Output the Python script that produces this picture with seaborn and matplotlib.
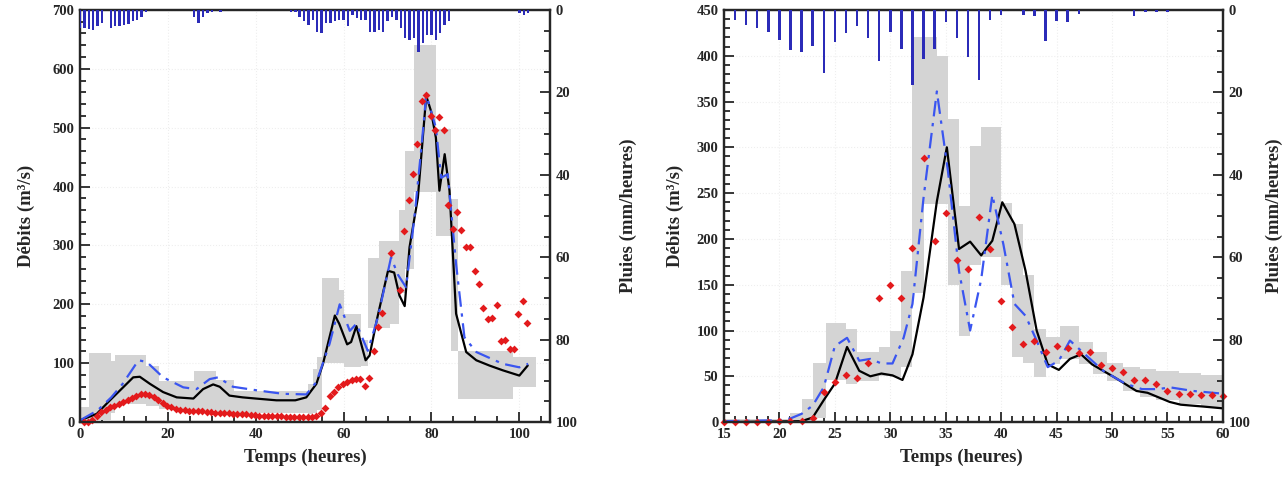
import numpy as np
import pandas as pd
import seaborn as sns
import matplotlib.pyplot as plt
from matplotlib.ticker import MultipleLocator

# ---------------- left event (0-105 h) ----------------
# simulated discharge, model 1 (black)
l_sim1_t = [0, 3.8, 6.8, 9.8, 12.1, 13.6, 15.9, 18.9, 22, 25.8, 28, 30.3, 31.8, 34, 37, 40,
            44.7, 49, 51.5, 53.8, 55.3, 58, 59, 60.8, 61.7, 62.9, 65, 65.9, 67.6, 70.1, 71.5,
            72.7, 73.9, 75, 76.9, 78.8, 79.9, 81, 81.8, 83, 84.1, 85.6, 87.9, 90.2, 93.2,
            96.2, 100, 101.9]
l_sim1_q = [3, 14, 37, 59, 76, 77, 65, 51, 42, 40, 56, 64, 60, 45, 42, 40,
            37, 37, 42, 65, 99, 181, 167, 132, 136, 163, 105, 113, 175, 257, 254,
            215, 197, 297, 381, 554, 528, 483, 393, 455, 393, 184, 119, 105, 96,
            88, 79, 96]
# simulated discharge, model 2 (blue dash-dot)
l_sim2_t = [0, 4, 7.1, 9.6, 13.3, 15.2, 18.9, 23.5, 26.5, 29.5, 31.4, 34.8, 40.2, 46.2, 51.5,
            53.8, 56.8, 59.1, 61.4, 62.9, 65.5, 67.8, 70.8, 72.3, 74.2, 76.1, 77.7, 78.8,
            81, 82.2, 83.7, 85.6, 87.5, 90.2, 96.2, 100, 102]
l_sim2_q = [3, 20, 42, 64, 105, 102, 76, 59, 56, 73, 76, 60, 54, 48, 47,
            68, 133, 200, 155, 167, 121, 178, 280, 251, 229, 347, 466, 556,
            500, 415, 421, 268, 144, 119, 99, 93, 99]
# observed discharge (red)
l_obs_t = np.arange(0.8, 102, 1.0)
l_obs_q = [0, 1, 3, 10, 17, 21, 25, 28, 31, 34, 38, 41, 45, 48, 48, 46, 42, 37, 32, 28,
           25, 22, 21, 20, 19, 19, 18, 18, 17, 17, 16, 16, 15, 15, 14, 14, 13, 13, 12, 12,
           11, 11, 11, 10, 10, 10, 9, 9, 8, 8, 8, 8, 9, 11, 15, 24, 45, 51, 59, 64,
           68, 71, 74, 74, 62, 75, 120, 161, 186, np.nan, 288, np.nan, 225, 324, 377, 422, 472, 545, 555, 520,
           496, 518, 496, 369, 328, 357, 326, 298, 298, 256, 234, 194, 175, 177, 199, 138, 140, 124, 124, 184,
           206, 168]
# uncertainty band (step edges)
l_band_t = [0, 2, 7, 8, 15, 18, 26, 31, 35, 52, 53, 54, 55, 59, 60, 64, 65.5, 68, 70.5, 72.7,
            74, 76, 81, 84.5, 86, 98.5, 103.8]
l_band_lo = [0, 3, 15, 30, 27, 22, 20, 17, 15, 14, 15, 20, 100, 100, 93, 95, 160, 159, 167, 220,
             260, 390, 316, 120, 40, 59]
l_band_hi = [25, 118, 104, 114, 95, 70, 86, 72, 53, 65, 90, 110, 244, 224, 184, 140, 279, 308, 307, 360,
             460, 641, 497, 379, 121, 111]
# rainfall (mm/h)
l_rain_t = [0, 1, 2, 3, 4, 5, 7, 8, 9, 10, 11, 12, 13, 14, 15, 26, 27, 28, 29, 30, 32] + \
           list(range(48, 85)) + [100, 101, 102]
l_rain = [4.4, 4.4, 4.7, 4.9, 4.0, 3.2, 4.3, 3.8, 3.8, 3.6, 3.5, 2.8, 2.4, 1.6, 0.4,
          1.6, 3.2, 1.6, 0.8, 0.4, 0.4,
          0.4, 0.4, 1.6, 2.8, 3.6, 2.4, 5.3, 5.7, 3.2, 3.2, 2.8, 2.4, 2.4, 4.0, 1.2, 2.0, 2.4,
          2.4, 5.3, 5.3, 4.9, 5.3, 2.8, 1.6, 2.4, 4.4, 6.9, 7.3, 6.9, 10.1, 8.1, 6.1, 6.1, 7.3,
          5.7, 3.6, 2.8,
          0.8, 1.2, 0.8]

# ---------------- right event (15-60 h) ----------------
r_sim1_t = [15, 22, 23, 24, 25, 26.1, 27.2, 28.2, 29.2, 30.2, 31.1, 32, 33, 34.2, 35.1, 36.2,
            37.2, 38.2, 39.2, 40.1, 41.2, 42.2, 43.2, 44.2, 45.2, 46.2, 47.2, 48.2, 50.2, 52.2,
            53.2, 55.2, 56.2, 58.2, 60]
r_sim1_q = [0, 1, 5, 24, 42, 82, 56, 50, 53, 51, 46, 74, 136, 241, 300, 189,
            197, 182, 198, 240, 216, 165, 100, 63, 57, 69, 74, 63, 49, 34,
            32, 22, 19, 17, 15]
r_sim2_t = [15, 20, 21, 22, 23, 24, 25, 26.1, 27.2, 28.2, 29.2, 30.2, 31.2, 32, 33, 34.2, 35.2,
            36.2, 37.2, 38.2, 39.2, 40.2, 41.2, 42.2, 43.2, 44.2, 45.2, 46.2, 47.2, 49.2, 51.2,
            52.7, 54.2, 55.2, 57.3, 60]
r_sim2_q = [1, 2, 4, 9, 18, 38, 83, 92, 67, 69, 64, 64, 92, 129, 245, 361, 274,
            165, 100, 156, 248, 194, 129, 116, 89, 60, 67, 89, 78, 56, 42,
            36, 36, 38, 34, 31]
r_obs_t = np.arange(15, 61)
r_obs_q = [0, 0, 0, 0, 0, 1, 1, 1, 5, 33, 44, 51, 48, 64, 135, 150, 136, 190, 288, 198,
           228, 177, 167, 224, 189, 132, 104, 85, 89, 77, 83, 81, 75, 77, 62, 59, 55, 46,
           46, 42, 34, 31, 31, 30, 30, 29]
r_band_t = [15, 21, 22, 23, 24.2, 26, 27, 29, 30, 31, 32, 33, 34.2, 35.2, 36.2, 37.2, 38.2, 40,
            41, 42, 43, 44, 45.3, 47, 48.3, 49.5, 51, 52.5, 54, 56, 58, 60]
r_band_lo = [0, 0, 0, 4, 46, 42, 45, 50, 49, 60, 141, 238, 238, 150, 94, 172, 180, 150,
             71, 65, 49, 63, 69, 63, 53, 45, 34, 27, 24, 20, 16]
r_band_hi = [3, 10, 25, 65, 108, 102, 76, 82, 100, 165, 420, 420, 400, 331, 236, 301, 322, 239,
             216, 161, 102, 93, 105, 87, 76, 65, 60, 58, 56, 54, 51]
r_rain_t = list(range(16, 41)) + [42, 43, 44, 45, 46, 47, 52, 53, 54, 55]
r_rain = [2.5, 3.75, 4.4, 5.25, 7.25, 9.8, 10.25, 8.75, 15.3, 7.9, 5.7, 4.0, 6.7, 12.4, 5.25,
          9.4, 18.2, 11.9, 9.4, 2.9, 6.7, 11.4, 17.0, 2.5, 1.25,
          1.25, 1.4, 7.5, 2.7, 2.9, 1.1, 1.4, 0.4, 0.4, 0.6]

sns.set_style("ticks")
plt.rcParams["font.family"] = ["Liberation Serif", "DejaVu Serif"]
plt.rcParams["font.weight"] = "bold"

BAND = "#d4d4d4"
BLUE = "#3a55f0"
RAIN = "#2b2bb8"
RED = "#e31a1c"


def draw_panel(ax, band_t, band_lo, band_hi, s1_t, s1_q, s2_t, s2_q, obs_t, obs_q,
               rain_t, rain, xlim, ylim, xmaj, xmin, ymaj, ymin, bar_w):
    ax.fill_between(band_t, band_lo + [band_lo[-1]], band_hi + [band_hi[-1]],
                    step="post", color=BAND, lw=0, zorder=1)
    d1 = pd.DataFrame({"t": s1_t, "q": s1_q})
    d2 = pd.DataFrame({"t": s2_t, "q": s2_q})
    sns.lineplot(data=d1, x="t", y="q", ax=ax, color="black", lw=1.6,
                 sort=False, estimator=None, zorder=3)
    sns.lineplot(data=d2, x="t", y="q", ax=ax, color=BLUE, lw=1.6,
                 sort=False, estimator=None, zorder=4)
    ax.lines[-1].set_linestyle((0, (7, 3, 1.5, 3)))
    do = pd.DataFrame({"t": obs_t, "q": obs_q}).dropna()
    sns.scatterplot(data=do, x="t", y="q", ax=ax, color=RED, marker="D", s=16,
                    linewidth=0, zorder=5, clip_on=False)

    ax.set_xlim(*xlim)
    ax.set_ylim(*ylim)
    ax.xaxis.set_major_locator(MultipleLocator(xmaj))
    ax.xaxis.set_minor_locator(MultipleLocator(xmin))
    ax.yaxis.set_major_locator(MultipleLocator(ymaj))
    ax.yaxis.set_minor_locator(MultipleLocator(ymin))
    ax.grid(True, which="major", color="#eeeeee", lw=0.8, ls=":")
    ax.tick_params(which="both", direction="in", top=False, right=False,
                   labelsize=10.5, width=1.3, pad=4)
    ax.tick_params(which="major", length=7)
    ax.tick_params(which="minor", length=4)
    for sp in ax.spines.values():
        sp.set_linewidth(1.6)
        sp.set_visible(True)
    ax.set_xlabel("Temps (heures)", fontsize=13.5, fontweight="bold")
    ax.set_ylabel("Débits (m³/s)", fontsize=13.5, fontweight="bold")

    ax2 = ax.twinx()
    ax2.bar(rain_t, rain, width=bar_w, color=RAIN, lw=0, zorder=6)
    ax2.set_ylim(100, 0)
    ax2.yaxis.set_major_locator(MultipleLocator(20))
    ax2.yaxis.set_minor_locator(MultipleLocator(5))
    ax2.tick_params(which="both", direction="in", labelsize=10.5, width=1.3, pad=4)
    ax2.tick_params(which="major", length=7)
    ax2.tick_params(which="minor", length=4)
    for sp in ax2.spines.values():
        sp.set_linewidth(1.6)
    ax2.set_ylabel("Pluies (mm/heures)", fontsize=13.5, fontweight="bold")
    return ax2


fig = plt.figure(figsize=(12.85, 4.96), dpi=100)
ax_l = fig.add_axes([0.0623, 0.149, 0.3658, 0.831])
ax_r = fig.add_axes([0.5634, 0.149, 0.3883, 0.831])

a2 = draw_panel(ax_l, l_band_t, l_band_lo, l_band_hi, l_sim1_t, l_sim1_q, l_sim2_t, l_sim2_q,
                l_obs_t, l_obs_q, l_rain_t, l_rain, (0, 107), (0, 700), 20, 5, 100, 20, 0.55)
ax_l.yaxis.set_label_coords(-0.095, 0.5)
ax_l.xaxis.set_label_coords(0.48, -0.065)
a2.yaxis.set_label_coords(1.148, 0.5)

b2 = draw_panel(ax_r, r_band_t, r_band_lo, r_band_hi, r_sim1_t, r_sim1_q, r_sim2_t, r_sim2_q,
                r_obs_t, r_obs_q, r_rain_t, r_rain, (15, 60), (0, 450), 5, 1, 50, 10, 0.22)
ax_r.yaxis.set_label_coords(-0.08, 0.5)
ax_r.xaxis.set_label_coords(0.475, -0.065)
b2.yaxis.set_label_coords(1.085, 0.5)

fig.savefig("out.png", dpi=100)
